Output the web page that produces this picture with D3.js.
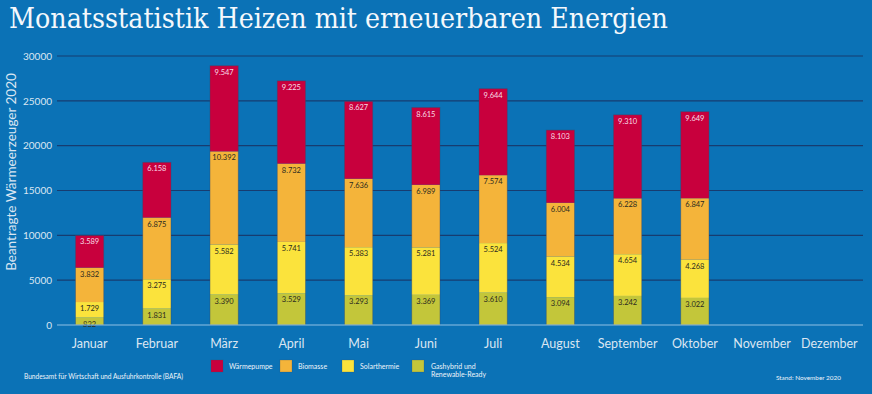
<!DOCTYPE html>
<meta charset="utf-8">
<style>
body { margin: 0; background: #0b72b6; }
svg { display: block; }
.grid line { stroke: #173c70; stroke-width: 1.2; }
.tick text { fill: #dbe6f2; }
</style>
<svg id="chart" width="872" height="394"></svg>
<script src="https://cdn.jsdelivr.net/npm/d3@7"></script>
<script>

var months = ["Januar", "Februar", "März", "April", "Mai", "Juni", "Juli", "August", "September", "Oktober", "November", "Dezember"];

// values per month (Jan..Okt), bottom to top
var gashybrid    = [832, 1831, 3390, 3529, 3293, 3369, 3610, 3094, 3242, 3022];
var solarthermie = [1729, 3275, 5582, 5741, 5383, 5281, 5524, 4534, 4654, 4268];
var biomasse     = [3832, 6875, 10392, 8732, 7636, 6989, 7574, 6004, 6228, 6847];
var waermepumpe  = [3589, 6158, 9547, 9225, 8627, 8615, 9644, 8103, 9310, 9649];

var seriesNames = ["Wärmepumpe", "Biomasse", "Solarthermie", "Gashybrid und Renewable-Ready"];
var seriesColors = ["#c8003d", "#f4b43a", "#fbe33c", "#c3c63a"];
var yTicks = [0, 5000, 10000, 15000, 20000, 25000, 30000];

var svg = d3.select("#chart");
var font = "Lato, 'Open Sans', sans-serif";

svg.append("rect").attr("width", 872).attr("height", 394).attr("fill", "#0b72b6");

var rows = gashybrid.map(function(d, i) {
  return { month: months[i], gas: d, solar: solarthermie[i], bio: biomasse[i], wp: waermepumpe[i] };
});
var keys = ["gas", "solar", "bio", "wp"];
var keyColor = { gas: seriesColors[3], solar: seriesColors[2], bio: seriesColors[1], wp: seriesColors[0] };

var x = d3.scaleBand().domain(months).range([56, 863]).paddingInner(0.58).paddingOuter(0.29);
var y = d3.scaleLinear().domain([0, 30000]).range([325, 56]);

// title
svg.append("text")
    .attr("x", 9).attr("y", 28)
    .attr("fill", "#f4f8fc")
    .attr("font-family", "'DejaVu Serif Condensed', 'Liberation Serif', serif")
    .attr("font-size", 28)
    .attr("textLength", 659)
    .attr("lengthAdjust", "spacingAndGlyphs")
    .text("Monatsstatistik Heizen mit erneuerbaren Energien");

// gridlines
var grid = svg.append("g").attr("class", "grid");
grid.selectAll("line").data(yTicks.slice(1)).enter().append("line")
    .attr("x1", 57).attr("x2", 863)
    .attr("y1", function(d) { return y(d); })
    .attr("y2", function(d) { return y(d); });

// y axis labels
var yAxis = svg.append("g")
    .attr("transform", "translate(57,0)")
    .call(d3.axisLeft(y).tickValues(yTicks).tickSize(0).tickPadding(5).tickFormat(d3.format("d")));
yAxis.select(".domain").remove();
yAxis.selectAll("text").attr("font-family", font).attr("font-size", 10);

svg.append("text")
    .attr("transform", "translate(16,172) rotate(-90)")
    .attr("text-anchor", "middle")
    .attr("fill", "#dbe6f2")
    .attr("font-family", font)
    .attr("font-size", 13.5)
    .text("Beantragte Wärmeerzeuger 2020");

// stacked bars
var stacked = d3.stack().keys(keys)(rows);
var deFmt = d3.formatLocale({ decimal: ",", thousands: ".", grouping: [3], currency: ["", "€"] }).format(",d");

var layers = svg.append("g").selectAll("g").data(stacked).enter().append("g")
    .attr("fill", function(d) { return keyColor[d.key]; });

layers.selectAll("rect").data(function(d) { return d; }).enter().append("rect")
    .attr("x", function(d) { return x(d.data.month); })
    .attr("width", x.bandwidth())
    .attr("y", function(d) { return y(d[1]); })
    .attr("height", function(d) { return y(d[0]) - y(d[1]); });

// outline around each bar
svg.append("g").selectAll("rect").data(rows).enter().append("rect")
    .attr("x", function(d) { return x(d.month); })
    .attr("width", x.bandwidth())
    .attr("y", function(d) { return y(d.gas + d.solar + d.bio + d.wp); })
    .attr("height", function(d) { return y(0) - y(d.gas + d.solar + d.bio + d.wp); })
    .attr("fill", "none")
    .attr("stroke", "#3a4a6a")
    .attr("stroke-opacity", 0.5)
    .attr("stroke-width", 0.8);

// segment labels
layers.each(function(layer) {
  d3.select(this).selectAll("text").data(layer).enter().append("text")
      .attr("x", function(d) { return x(d.data.month) + x.bandwidth() / 2; })
      .attr("y", function(d) { return y(d[1]) + 9; })
      .attr("text-anchor", "middle")
      .attr("font-family", font)
      .attr("font-size", 7.5)
      .attr("fill", layer.key === "wp" ? "#f7dde6" : "#2b2a20")
      .text(function(d) { return deFmt(d[1] - d[0]); });
});

// baseline
svg.append("line")
    .attr("x1", 57).attr("x2", 863)
    .attr("y1", y(0)).attr("y2", y(0))
    .attr("stroke", "#8fbfe3").attr("stroke-width", 1.2);

// month labels
var xAxis = svg.append("g")
    .attr("transform", "translate(0," + y(0) + ")")
    .call(d3.axisBottom(x).tickSize(0).tickPadding(14));
xAxis.select(".domain").remove();
xAxis.selectAll("text").attr("font-family", font).attr("font-size", 12.5);

// legend
var legendX = [211, 280, 342, 412];
var legend = svg.append("g").selectAll("g").data(seriesNames).enter().append("g")
    .attr("transform", function(d, i) { return "translate(" + legendX[i] + ",360)"; });
legend.append("rect")
    .attr("width", 12).attr("height", 12)
    .attr("fill", function(d, i) { return seriesColors[i]; })
    .attr("stroke", "#3a4a6a").attr("stroke-opacity", 0.4).attr("stroke-width", 0.6);
legend.each(function(d, i) {
  var t = d3.select(this).append("text")
      .attr("x", i === 3 ? 19 : 18)
      .attr("font-family", font)
      .attr("font-size", 7)
      .attr("fill", "#eef4fa");
  if (i === 3) {
    t.append("tspan").attr("x", 19).attr("y", 8.5).text("Gashybrid und");
    t.append("tspan").attr("x", 19).attr("y", 16.5).text("Renewable-Ready");
  } else {
    t.attr("y", 8.5).text(d);
  }
});

// footer
svg.append("text")
    .attr("x", 24).attr("y", 379)
    .attr("font-family", font).attr("font-size", 6.6)
    .attr("fill", "#eef4fa")
    .text("Bundesamt für Wirtschaft und Ausfuhrkontrolle (BAFA)");
svg.append("text")
    .attr("x", 776).attr("y", 380)
    .attr("font-family", font).attr("font-size", 6.4)
    .attr("fill", "#eef4fa")
    .text("Stand: November 2020");

</script>
